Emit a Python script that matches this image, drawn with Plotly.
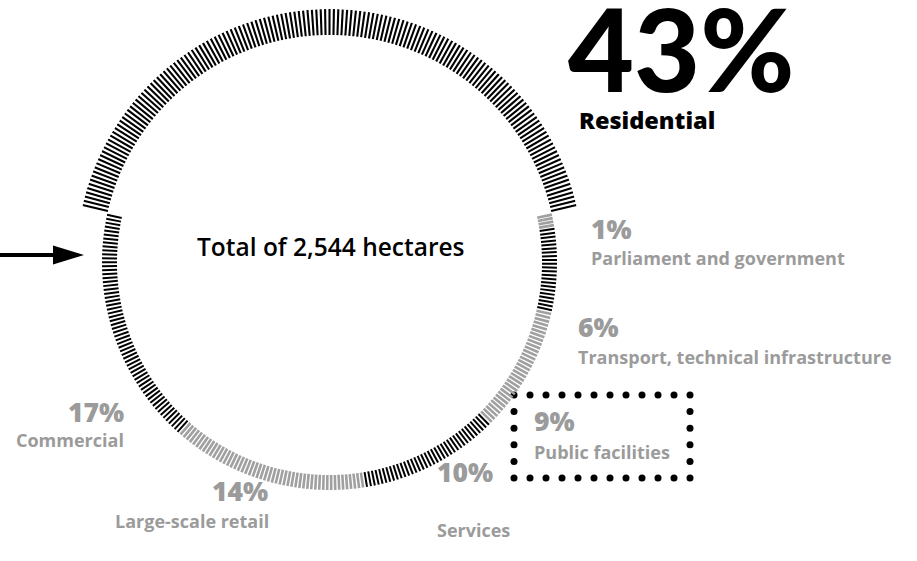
import plotly.graph_objects as go

# ---------------- data ----------------
categories = ["Residential", "Parliament and government",
              "Transport, technical infrastructure", "Public facilities",
              "Services", "Large-scale retail", "Commercial"]
shares = [43, 1, 6, 9, 10, 14, 17]          # percent of total area
total_label = "Total of 2,544 hectares"

# ---------------- styling ----------------
W, H = 917, 561
CX, CY = 329.5, 262.5           # ring centre in pixels (from top-left)
R_MAX = 253.5                   # radial range (pixels)
BLACK = "#000000"
GRAY = "#a0a0a0"
LABEL_GRAY = "#9b9b9b"
seg_colors = [BLACK, GRAY, BLACK, GRAY, BLACK, GRAY, BLACK]
START_ANGLE = 90 + shares[0] * 3.6 / 2      # residential centred on top
TICKS_PER_DEG = 1.0

fig = go.Figure()

# ring of radial ticks (polar axes)
a0 = START_ANGLE
for i, (cat, s) in enumerate(zip(categories, shares)):
    span = s * 3.6
    n = max(1, round(span * TICKS_PER_DEG))
    if i == 0:
        rin, rout, lw = 227.5, 253.5, 2.1
    else:
        rin, rout, lw = 212.5, 227.5, 2.0 if seg_colors[i] == BLACK else 2.6
    r, th = [], []
    for k in range(n):
        ang = a0 - (k + 0.5) * span / n
        r += [rin, rout, None]
        th += [ang, ang, None]
    fig.add_trace(go.Scatterpolar(r=r, theta=th, mode="lines",
                                  line=dict(color=seg_colors[i], width=lw),
                                  hoverinfo="skip", showlegend=False, name=cat))
    a0 -= span

# dotted frame around "Public facilities"
def dotted_box(x0, y0, x1, y1, nx, ny):
    xs, ys = [], []
    for k in range(nx + 1):
        x = x0 + (x1 - x0) * k / nx
        xs += [x, x]; ys += [y0, y1]
    for k in range(1, ny):
        y = y0 + (y1 - y0) * k / ny
        xs += [x0, x1]; ys += [y, y]
    return xs, ys

bx, by = dotted_box(514, 395, 690, 478, 11, 5)
fig.add_trace(go.Scatter(x=bx, y=by, mode="markers",
                         marker=dict(color=BLACK, size=7, line=dict(width=0)),
                         hoverinfo="skip", showlegend=False))

# arrow
fig.add_trace(go.Scatter(x=[0, 58], y=[255, 255], mode="lines",
                         line=dict(color=BLACK, width=4),
                         hoverinfo="skip", showlegend=False))
fig.add_shape(type="path", path="M 53,245.5 L 84,255 L 53,264.5 Z",
              xref="x", yref="y", fillcolor=BLACK, line=dict(width=0))

FONT = "Open Sans"
def txt(x, y, text, size, color, weight, xanchor="left", family=FONT, height=None):
    fig.add_annotation(x=x, y=y, xref="x", yref="y", text=text, showarrow=False,
                       xanchor=xanchor, yanchor="middle", height=height,
                       font=dict(family=family, size=size, color=color, weight=weight))

pct = [f"{s}%" for s in shares]
PS, LS = 26.5, 18

# Residential headline
txt(566, 47, pct[0], 114, BLACK, 900, family="Lato", height=92)
txt(577, 120, categories[0], 23.5, BLACK, 800)

# other labels
txt(589, 229, pct[1], PS, LABEL_GRAY, 800)
txt(589, 258, categories[1], LS, LABEL_GRAY, 700)
txt(576, 327, pct[2], PS, LABEL_GRAY, 800)
txt(576, 357, categories[2], LS, LABEL_GRAY, 700)
txt(532, 421, pct[3], PS, LABEL_GRAY, 800)
txt(532, 452, categories[3], LS, LABEL_GRAY, 700)
txt(435, 472, pct[4], PS, LABEL_GRAY, 800)
txt(435, 530, categories[4], LS, LABEL_GRAY, 700)
txt(270, 491, pct[5], PS, LABEL_GRAY, 800, xanchor="right")
txt(271, 521, categories[5], LS, LABEL_GRAY, 700, xanchor="right")
txt(126, 412, pct[6], PS, LABEL_GRAY, 800, xanchor="right")
txt(126, 440, categories[6], LS, LABEL_GRAY, 700, xanchor="right")

# centre text
txt(331, 246, total_label, 24.5, BLACK, 600, xanchor="center")

fig.update_layout(
    width=W, height=H,
    margin=dict(l=0, r=0, t=0, b=0),
    paper_bgcolor="white", plot_bgcolor="rgba(0,0,0,0)",
    showlegend=False,
    xaxis=dict(range=[0, W], domain=[0, 1], visible=False, fixedrange=True),
    yaxis=dict(range=[H, 0], domain=[0, 1], visible=False, fixedrange=True),
    polar=dict(
        domain=dict(x=[(CX - R_MAX) / W, (CX + R_MAX) / W],
                    y=[(H - CY - R_MAX) / H, (H - CY + R_MAX) / H]),
        bgcolor="rgba(0,0,0,0)",
        radialaxis=dict(range=[0, R_MAX], visible=False, showgrid=False),
        angularaxis=dict(visible=False, showgrid=False, rotation=0,
                         direction="counterclockwise"),
    ),
)

fig.write_html("out.html",
               config={"displayModeBar": False, "staticPlot": True},
               post_script="document.body.style.margin='0px';document.body.style.overflow='hidden';")
